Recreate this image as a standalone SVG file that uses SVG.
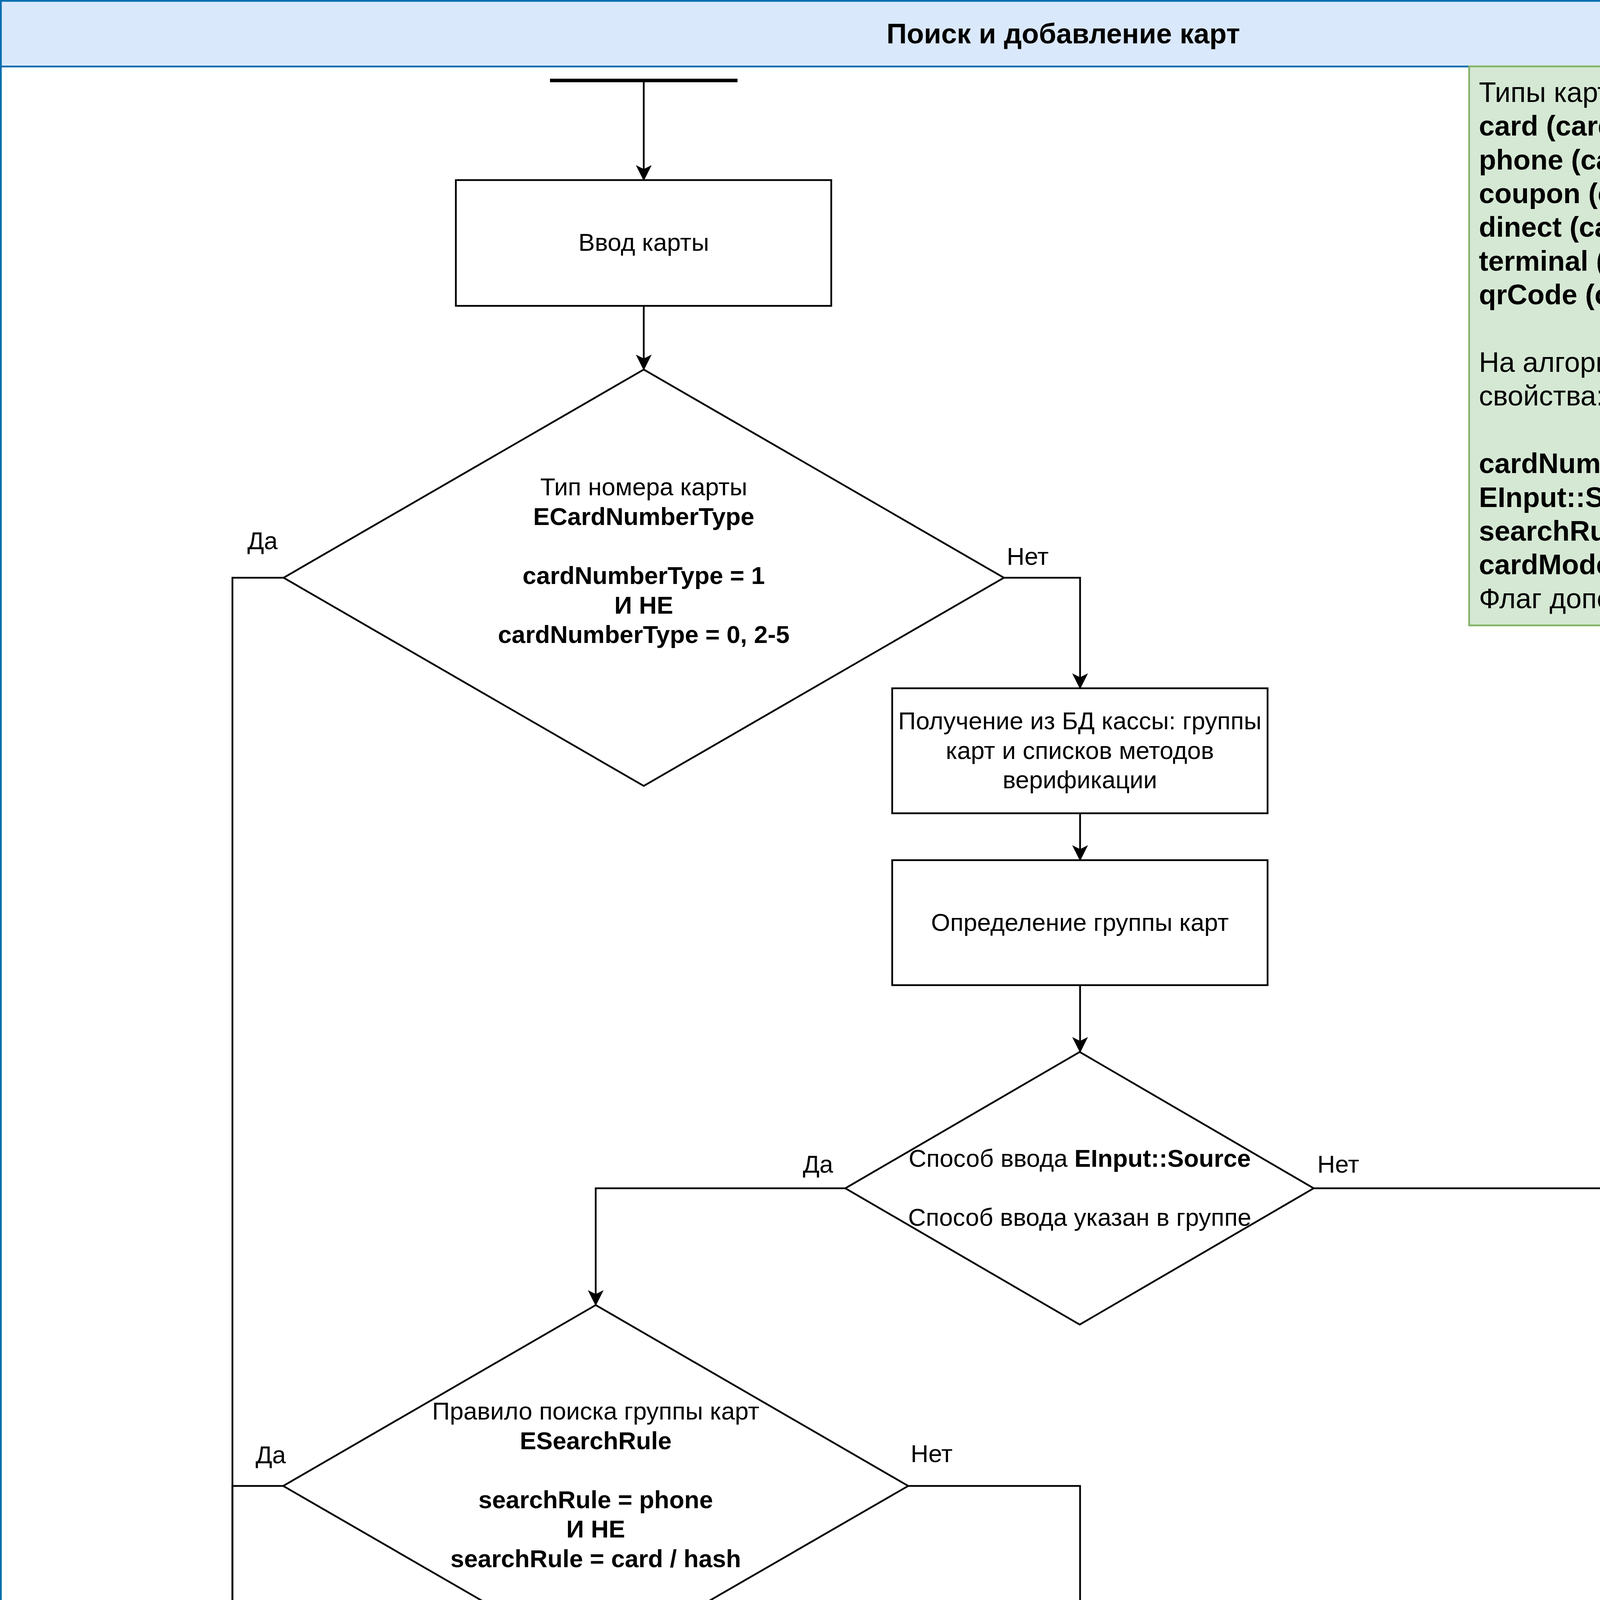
<svg xmlns="http://www.w3.org/2000/svg" width="5444" height="7204" viewBox="0 0 5444 7204">
<style>
text{font-family:"Liberation Sans",Arial,sans-serif;fill:#000}
.t{font-size:63px;text-anchor:middle}
.lg{font-size:72px}
.b{font-weight:bold}
.shape{fill:#fff;stroke:#000;stroke-width:4.5}
.edge{fill:none;stroke:#000;stroke-width:4.5}
</style>
<defs>
<marker id="arr" markerUnits="userSpaceOnUse" markerWidth="40" markerHeight="40" viewBox="-38 -20 40 40" refX="0" refY="0" orient="auto">
<path d="M0,0 L-36,-18 L-27,0 L-36,18 Z" fill="#000" stroke="#000" stroke-width="2"/>
</marker>
</defs>
<g id="container">
<rect x="2.25" y="2.25" width="5439.5" height="7199.5" fill="#fff" stroke="#006EAF" stroke-width="4.5"/>
<rect x="2.25" y="2.25" width="5439.5" height="168" fill="#dae8fc" stroke="#006EAF" stroke-width="4.5"/>
<text x="2722" y="111" font-size="72" font-weight="bold" text-anchor="middle">Поиск и добавление карт</text>
</g>
<g id="legend">
<rect x="3761" y="170" width="1680" height="1431" fill="#d5e8d4" stroke="#82b366" stroke-width="4.5"/>
<text class="lg" x="3786" y="261">Типы карт <tspan class="b">ECardNumberType</tspan>:</text>
<text class="lg b" x="3786" y="347">card (cardNumberType = 0)</text>
<text class="lg b" x="3786" y="434">phone (cardNumberType = 1)</text>
<text class="lg b" x="3786" y="520">coupon (cardNumberType = 2)</text>
<text class="lg b" x="3786" y="606">dinect (cardNumberType = 3)</text>
<text class="lg b" x="3786" y="693">terminal (cardNumberType = 4)</text>
<text class="lg b" x="3786" y="779">qrCode (cardNumberType = 5)</text>
<text class="lg" x="3786" y="952">На алгоритм ввода карты влияют следующие</text>
<text class="lg" x="3786" y="1038">свойства:</text>
<text class="lg" x="3786" y="1211"><tspan class="b">cardNumberType</tspan> - Тип номера карты</text>
<text class="lg" x="3786" y="1298"><tspan class="b">EInput::Source</tspan> - Способ ввода карты</text>
<text class="lg" x="3786" y="1384"><tspan class="b">searchRule</tspan> - Правило поиска карты</text>
<text class="lg" x="3786" y="1470"><tspan class="b">cardMode</tspan> - Тип карты</text>
<text class="lg" x="3786" y="1557">Флаг дополнительной регистрации</text>
</g>
<g id="start">
<line x1="1408" y1="206" x2="1888" y2="206" stroke="#000" stroke-width="9"/>
</g>
<g id="box-input">
<rect class="shape" x="1167" y="461" width="961" height="322"/>
<text class="t" x="1648" y="642">Ввод карты</text>
</g>
<g id="dia-cardtype">
<polygon class="shape" points="1648,946 2570,1479 1648,2012 726,1479"/>
<text class="t" x="1648" y="1268">Тип номера карты</text>
<text class="t b" x="1648" y="1344">ECardNumberType</text>
<text class="t b" x="1648" y="1495">cardNumberType = 1</text>
<text class="t b" x="1648" y="1571">И НЕ</text>
<text class="t b" x="1648" y="1646">cardNumberType = 0, 2-5</text>
</g>
<g id="box-db">
<rect class="shape" x="2284" y="1762" width="961" height="320"/>
<text class="t" x="2764.5" y="1867">Получение из БД кассы: группы</text>
<text class="t" x="2764.5" y="1943">карт и списков методов</text>
<text class="t" x="2764.5" y="2018">верификации</text>
</g>
<g id="box-group">
<rect class="shape" x="2284" y="2202" width="961" height="320"/>
<text class="t" x="2764.5" y="2383">Определение группы карт</text>
</g>
<g id="dia-source">
<polygon class="shape" points="2764,2693 3363,3042 2764,3391 2164,3042"/>
<text class="t" x="2764" y="2987">Способ ввода <tspan class="b">EInput::Source</tspan></text>
<text class="t" x="2764" y="3138">Способ ввода указан в группе</text>
</g>
<g id="dia-rule">
<polygon class="shape" points="1525,3341 2325,3804 1525,4266 725,3804"/>
<text class="t" x="1525" y="3634">Правило поиска группы карт</text>
<text class="t b" x="1525" y="3710">ESearchRule</text>
<text class="t b" x="1525" y="3861">searchRule = phone</text>
<text class="t b" x="1525" y="3936">И НЕ</text>
<text class="t b" x="1525" y="4012">searchRule = card / hash</text>
</g>
<g id="dia-reg">
<polygon class="shape" points="2764,4219 3562,4681 2764,5143 1967,4681"/>
<text class="t" x="2764" y="4663">Требуется ли дополнительная</text>
<text class="t" x="2764" y="4739">регистрация?</text>
</g>
<g id="dia-remote">
<polygon class="shape" points="3915,5060 4712,5521 3915,5983 3118,5521"/>
<text class="t" x="3915" y="5503">Дополнительная регистрация</text>
<text class="t" x="3915" y="5579">на удаленном сервере прошла успешно</text>
</g>
<g id="box-cardmode">
<rect class="shape" x="115" y="5802" width="960" height="320"/>
<text class="t" x="595" y="5869">Тип карты <tspan class="b">ECardMode</tspan></text>
<text class="t" x="595" y="5945">Поиск осуществляется в</text>
<text class="t" x="595" y="6020">соответствии с настройками</text>
<text class="t" x="595" y="6096">определенного типа карты</text>
</g>
<g id="box-found">
<rect class="shape" x="115" y="6242" width="960" height="320"/>
<text class="t" x="595" y="6423">Карта найдена</text>
</g>
<g id="exit">
<rect class="shape" x="2344" y="6882" width="840" height="240" rx="120" ry="120"/>
<text class="t" x="2764" y="7023">Выход</text>
</g>
<g id="connectors">
<path class="edge" d="M1648,210 L1648,461" marker-end="url(#arr)"/>
<path class="edge" d="M1648,783 L1648,946" marker-end="url(#arr)"/>
<path class="edge" d="M2570,1479 L2765,1479 L2765,1762" marker-end="url(#arr)"/>
<path class="edge" d="M2765,2082 L2765,2202" marker-end="url(#arr)"/>
<path class="edge" d="M2765,2522 L2765,2693" marker-end="url(#arr)"/>
<path class="edge" d="M2164,3042 L1525,3042 L1525,3341" marker-end="url(#arr)"/>
<path class="edge" d="M3363,3042 L4920,3042 L4920,6722 L2765,6722 L2765,6882" marker-end="url(#arr)"/>
<path class="edge" d="M726,1479 L595,1479 L595,5802" marker-end="url(#arr)"/>
<path class="edge" d="M725,3804 L595,3804 L595,5802" marker-end="url(#arr)"/>
<path class="edge" d="M2325,3804 L2765,3804 L2765,4219" marker-end="url(#arr)"/>
<path class="edge" d="M1967,4681 L595,4681 L595,5802" marker-end="url(#arr)"/>
<path class="edge" d="M3562,4681 L3915,4681 L3915,5060" marker-end="url(#arr)"/>
<path class="edge" d="M3118,5521 L595,5521 L595,5802" marker-end="url(#arr)"/>
<path class="edge" d="M4712,5521 L4920,5521 L4920,6722 L2765,6722 L2765,6882" marker-end="url(#arr)"/>
<path class="edge" d="M595,6122 L595,6242" marker-end="url(#arr)"/>
<path class="edge" d="M595,6562 L595,6722 L2765,6722 L2765,6882" marker-end="url(#arr)"/>
<text class="t" x="672" y="1406">Да</text>
<text class="t" x="2631" y="1446">Нет</text>
<text class="t" x="2094" y="3002">Да</text>
<text class="t" x="3426" y="3002">Нет</text>
<text class="t" x="693" y="3746">Да</text>
<text class="t" x="2385" y="3743">Нет</text>
<text class="t" x="1901" y="4639">Нет</text>
<text class="t" x="3624" y="4639">Да</text>
<text class="t" x="3053" y="5484">Да</text>
<text class="t" x="4772" y="5480">Нет</text>
</g>
</svg>
